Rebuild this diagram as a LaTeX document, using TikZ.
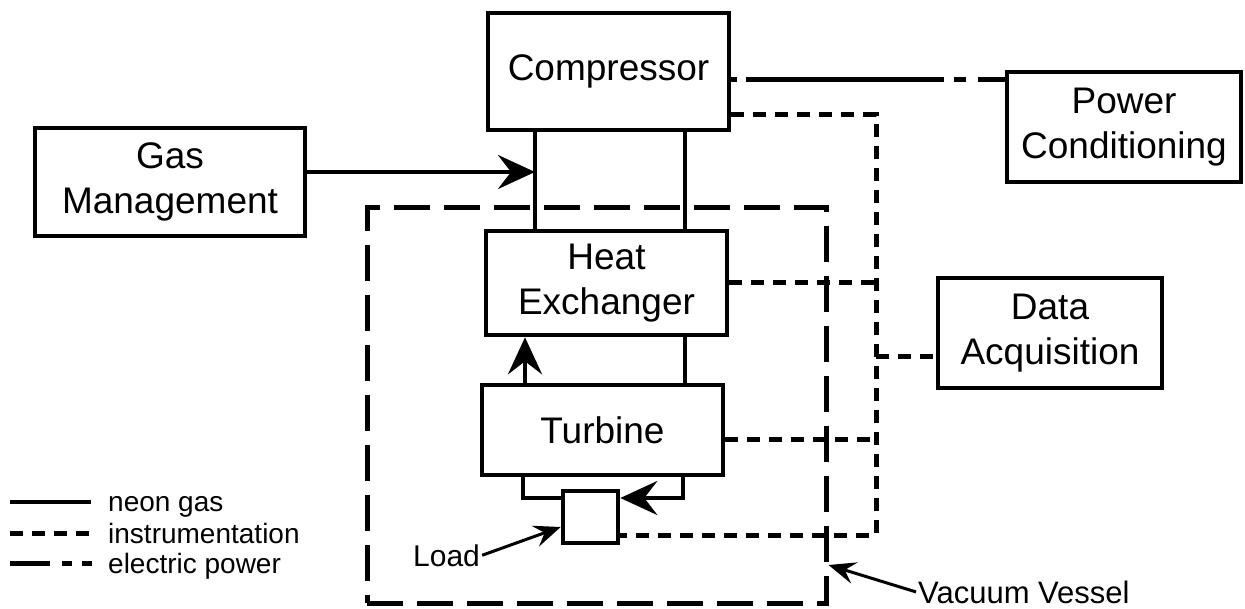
\documentclass[tikz,border=0pt]{standalone}
\usepackage{fontspec}
\setmainfont{Liberation Sans}
\usetikzlibrary{arrows.meta,calc}
\begin{document}
\begin{tikzpicture}[x=1pt,y=-1pt,
  box/.style={draw, line width=4.6pt, inner sep=0pt, font=\fontsize{37}{45}\selectfont, align=center},
  pipe/.style={line width=4.3pt},
  instr/.style={line width=5pt, dash pattern=on 13pt off 9pt},
  elec/.style={line width=5pt, dash pattern=on 6pt off 9pt on 198pt off 10pt on 12pt off 12pt on 300pt off 10pt},
  vesselbox/.style={draw, line width=5pt, dash pattern=on 36pt off 14pt, inner sep=0pt},
  bigarrow/.style={-{Stealth[length=37pt,width=34pt,inset=13pt]}},
  smallarrow/.style={line width=3pt,-{Stealth[length=27pt,width=22pt,inset=10pt]}},
  lbl/.style={inner sep=0pt},
]
\useasboundingbox (0,0) rectangle (1245,609);

% boxes
\node[box, minimum width=241pt, minimum height=117pt] (comp) at (608.5,71.5) {Compressor};
\node[box, minimum width=270pt, minimum height=108pt] (gm) at (170,182) {Gas\\Management};
\node[box, minimum width=241pt, minimum height=104pt] (hx) at (606.5,283) {Heat\\Exchanger};
\node[box, minimum width=241pt, minimum height=90pt] (turb) at (602.5,430) {Turbine};
\node[box, minimum width=55pt, minimum height=52pt] (load) at (590.5,517) {};
\node[box, minimum width=234pt, minimum height=110pt] (pc) at (1124,127) {Power\\Conditioning};
\node[box, minimum width=224pt, minimum height=110pt] (da) at (1050,333) {Data\\Acquisition};
\node[vesselbox, minimum width=459pt, minimum height=395pt] (vessel) at (596.5,405.5) {};

% helper coordinates
\coordinate (inL) at (535,172);
\coordinate (xR) at (685,0);
\coordinate (xA) at (525,0);
\coordinate (tl) at (523,498);
\coordinate (tr) at (683,498);
\coordinate (ix) at (876,0);
\coordinate (yI) at (0,115);
\coordinate (yL) at (0,535);
\coordinate (yH) at (0,283);
\coordinate (yT) at (0,439);
\coordinate (yD) at (0,357);
\coordinate (yE) at (0,80);
\coordinate (yV) at (0,565);

% neon gas
\draw[pipe] (comp.south -| inL) -- (hx.north -| inL);
\draw[pipe,bigarrow] (gm.east |- inL) -- (inL);
\draw[pipe] (comp.south -| xR) -- (hx.north -| xR);
\draw[pipe] (hx.south -| xR) -- (turb.north -| xR);
\draw[pipe,bigarrow] (turb.north -| xA) -- (hx.south -| xA);
\draw[pipe] (turb.south -| tl) -- (tl) -- (load.west |- tl);
\draw[pipe,bigarrow] (turb.south -| tr) -- (tr) -- (load.east |- tr);

% instrumentation
\draw[instr] (comp.east |- yI) -- (ix |- yI) -- (ix |- yL) -- (load.east |- yL);
\draw[instr] (hx.east |- yH) -- (ix |- yH);
\draw[instr] (turb.east |- yT) -- (ix |- yT);
\draw[instr] (ix |- yD) -- (da.west |- yD);

% electric power
\draw[elec] (comp.east |- yE) -- (pc.west |- yE);

% labels
\node[lbl, anchor=base west, font=\fontsize{30}{36}\selectfont] (loadlbl) at (413,566) {Load};
\draw[smallarrow] ($(loadlbl.east)+(2,0)$) -- ($(load.west)+(0,10)$);
\node[lbl, anchor=base west, font=\fontsize{31}{37}\selectfont] (vlbl) at (918,603) {Vacuum Vessel};
\draw[smallarrow] ($(vlbl.west)+(-2,0)$) -- (vessel.east |- yV);

% legend
\coordinate (l1a) at (10,502); \coordinate (l1b) at (91,502);
\coordinate (l2a) at (10,533); \coordinate (l2b) at (91,533);
\coordinate (l3a) at (10,563); \coordinate (l3b) at (92,563);
\draw[pipe, line width=4.6pt] (l1a) -- (l1b);
\draw[instr] (l2a) -- (l2b);
\draw[line width=5pt, dash pattern=on 40pt off 12pt on 10pt off 10pt on 10pt off 50pt] (l3a) -- (l3b);
\node[lbl, anchor=base west, font=\fontsize{28}{34}\selectfont] (t1) at (108,511) {neon gas};
\node[lbl, anchor=base west, font=\fontsize{28}{34}\selectfont] (t2) at (108,543) {instrumentation};
\node[lbl, anchor=base west, font=\fontsize{28}{34}\selectfont] (t3) at (108,573) {electric power};
\end{tikzpicture}
\end{document}
